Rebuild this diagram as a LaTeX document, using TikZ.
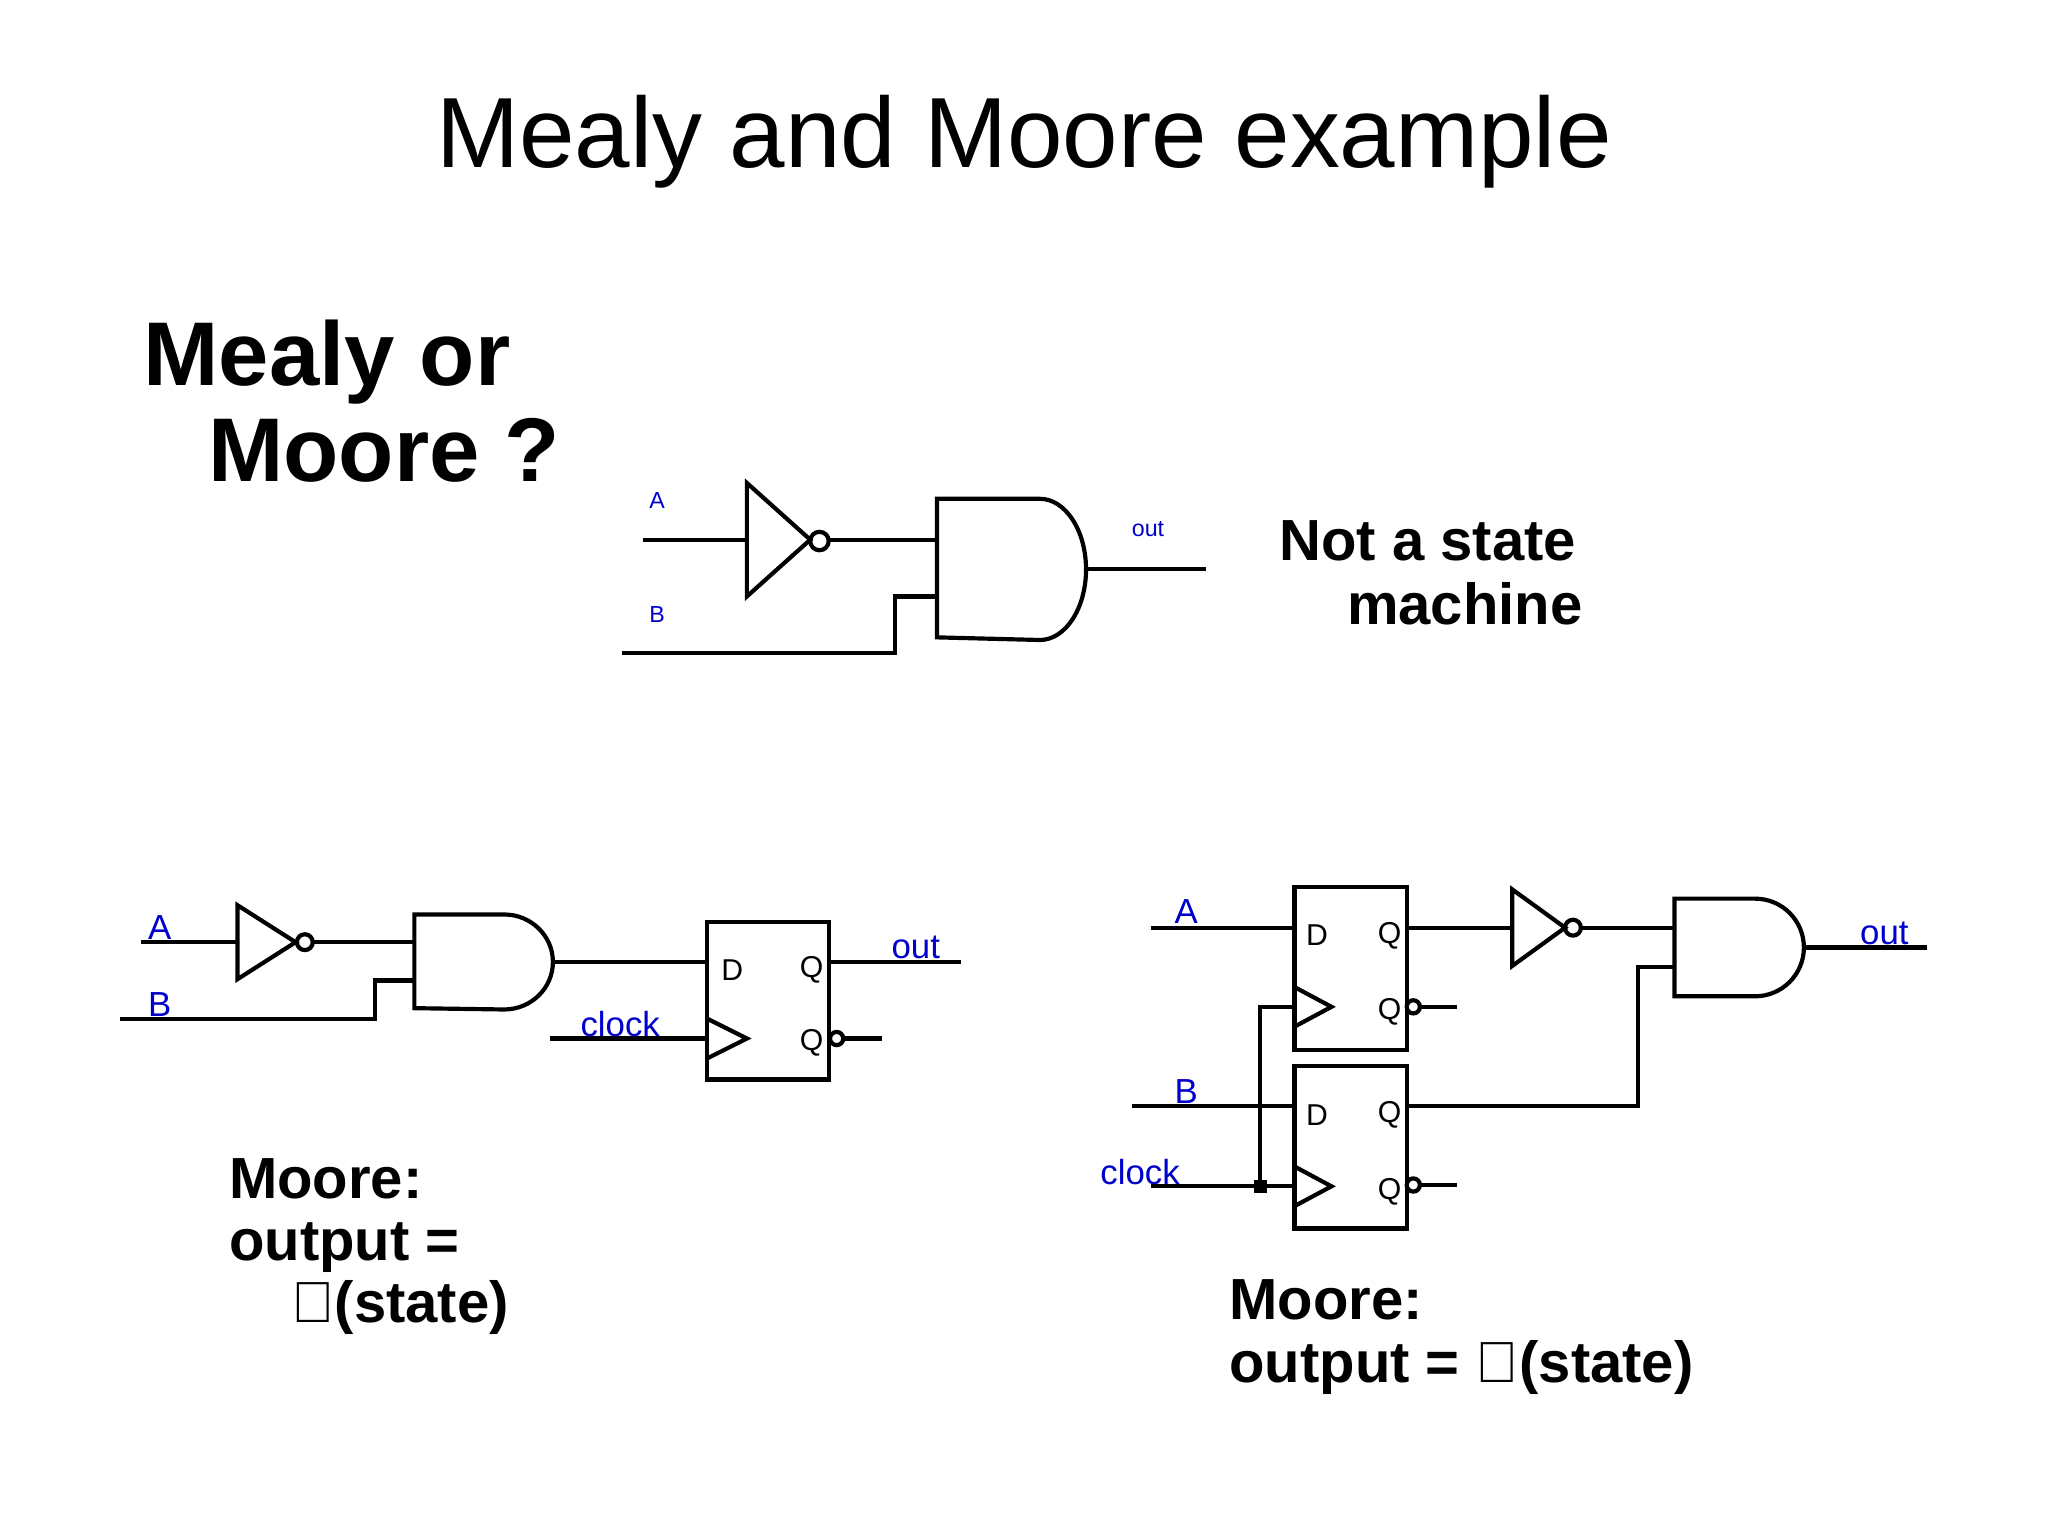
\documentclass[tikz,border=0pt]{standalone}
\usepackage{fontspec}
\setmainfont{Liberation Sans}
\begin{document}
\begin{tikzpicture}[x=0.01cm,y=-0.01cm,
  w/.style={line width=0.9pt},
  lbl/.style={text=blue!80!black,font=\fontsize{5}{6}\selectfont,inner sep=0},
  lblb/.style={text=blue!80!black,font=\fontsize{7.5}{9}\selectfont,inner sep=0},
  ff/.style={font=\fontsize{6.5}{8}\selectfont,inner sep=0},
  big/.style={font=\bfseries\fontsize{12.5}{15}\selectfont,inner sep=0,anchor=base west},
  huge/.style={font=\bfseries\fontsize{19.5}{23}\selectfont,inner sep=0,anchor=base west}]
\useasboundingbox (0,0) rectangle (1552,1164);
\node[inner sep=0,anchor=base,font=\fontsize{21.5}{26}\selectfont] (title) at (776,127) {Mealy and Moore example};
\node[huge] (q1) at (108,292) {Mealy or};
\node[huge] (q2) at (157,365) {Moore ?};
% top circuit
\node[lbl] (tA) at (498,379) {A};
\node[lbl] (tB) at (498,466) {B};
\node[lbl] (tout) at (870,401) {out};
\draw[w] (487,409)--(566,409);
\draw[w] (566,366)--(566,452)--(614,409)--cycle;
\draw[w] (621,410) circle (7);
\draw[w] (628,409)--(710,409);
\draw[w] (471,495)--(678,495)--(678,452)--(710,452);
\draw[w] (710,378)--(788,378) arc[start angle=90,end angle=-90,x radius=35,y radius=-53.5]--(710,483)--cycle;
\draw[w] (823,431)--(914,431);
\node[big,anchor=base] (ns1) at (1082,425) {Not a state};
\node[big,anchor=base] (ns2) at (1110,473) {machine};
% bottom left
\node[lblb] (lA) at (121,703) {A};
\node[lblb] (lB) at (121,761) {B};
\draw[w] (107,714)--(180,714);
\draw[w] (180,686)--(180,742)--(224,714)--cycle;
\draw[w] (231,714) circle (6);
\draw[w] (237,714)--(314,714);
\draw[w] (91,772)--(284,772)--(284,743)--(314,743);
\draw[w] (314,693)--(382,693) arc[start angle=90,end angle=-90,x radius=37,y radius=-36]--(314,764)--cycle;
\draw[w] (419,729)--(536,729);
\draw[w] (536,699) rectangle (628,818);
\node[ff] at (555,735) {D};
\node[ff] at (615,735) {Q};
\node[ff] at (615,790) {Q};
\draw[w] (536,772)--(566,787)--(536,802);
\draw[w] (417,787)--(536,787);
\node[lblb] (lclk) at (470,776) {clock};
\draw[w] (628,729)--(728,729);
\node[lblb] (lout) at (694,718) {out};
\draw[w] (634,787) circle (5);
\draw[w] (639,787)--(668,787);
\node[big] at (173,908) {Moore:};
\node[big] at (173,955) {output =};
\node[big] at (220,1002) {$\mathbf{\Gamma}$(state)};
% bottom right
\node[lblb] (rA) at (899,691) {A};
\node[lblb] (rB) at (899,827) {B};
\node[lblb] (rclk) at (864,888) {clock};
\draw[w] (872,703)--(981,703);
\draw[w] (981,672) rectangle (1066,796);
\node[ff] at (998,709) {D};
\node[ff] at (1053,709) {Q};
\node[ff] at (1053,767) {Q};
\draw[w] (981,748)--(1009,763)--(981,778);
\draw[w] (1071,763) circle (5);
\draw[w] (1076,763)--(1104,763);
\draw[w] (1066,703)--(1146,703);
\draw[w] (1146,674)--(1146,732)--(1186,703)--cycle;
\draw[w] (1192,703) circle (6);
\draw[w] (1198,703)--(1269,703);
\draw[w] (1269,681)--(1330,681) arc[start angle=90,end angle=-90,x radius=37,y radius=-37]--(1269,755)--cycle;
\draw[w] (1367,718)--(1460,718);
\node[lblb] (rout) at (1428,707) {out};
\draw[w] (981,808) rectangle (1066,931);
\node[ff] at (998,845) {D};
\node[ff] at (1053,845) {Q};
\node[ff] at (1053,903) {Q};
\draw[w] (981,884)--(1009,899)--(981,914);
\draw[w] (1071,898) circle (5);
\draw[w] (1076,898)--(1104,898);
\draw[w] (858,838)--(981,838);
\draw[w] (1066,838)--(1241,838)--(1241,733)--(1269,733);
\draw[w] (872,899)--(981,899);
\draw[w] (955,899)--(955,763)--(981,763);
\fill (950,894) rectangle (960,904);
\node[big] at (931,1000) {Moore:};
\node[big] at (931,1048) {output = $\mathbf{\Lambda}$(state)};
\end{tikzpicture}
\end{document}
